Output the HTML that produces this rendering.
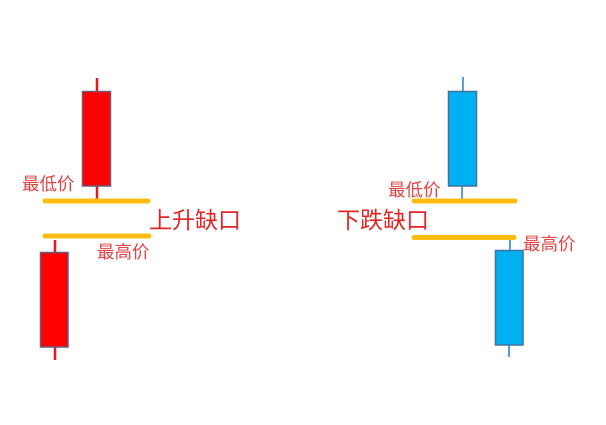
<!DOCTYPE html>
<html><head><meta charset="utf-8"><style>
html,body{margin:0;padding:0;background:#fff;}
svg{display:block;}
text{font-family:"Liberation Sans","Noto Sans CJK SC",sans-serif;}
</style></head><body>
<svg width="606" height="425" viewBox="0 0 606 425" xmlns="http://www.w3.org/2000/svg">
<rect width="606" height="425" fill="#fff"/>
<!-- left rising gap -->
<line x1="97" y1="78" x2="97" y2="200" stroke="#e8191b" stroke-width="2.5"/>
<rect x="82.5" y="91.5" width="28" height="94.5" fill="#ff0000" stroke="#6b5a7a" stroke-width="1.5"/>
<line x1="55" y1="240" x2="55" y2="360" stroke="#e8191b" stroke-width="2.5"/>
<rect x="40.5" y="252.5" width="27.5" height="94.5" fill="#ff0000" stroke="#6b5a7a" stroke-width="1.5"/>
<line x1="45" y1="201" x2="148" y2="201" stroke="#fbbd14" stroke-width="5" stroke-linecap="round"/>
<line x1="45" y1="236" x2="149" y2="236" stroke="#fbbd14" stroke-width="5" stroke-linecap="round"/>
<text x="22" y="190" font-size="17.5" fill="#e04343">最低价</text>
<text x="97" y="258" font-size="17.5" fill="#e04343">最高价</text>
<text x="149" y="228" font-size="23" fill="#e02626">上升缺口</text>
<!-- right falling gap -->
<line x1="463" y1="77" x2="462" y2="200" stroke="#5b9bd5" stroke-width="2"/>
<rect x="448.5" y="91.5" width="28" height="94.5" fill="#00b0f0" stroke="#41719c" stroke-width="1.5"/>
<line x1="510" y1="238" x2="509" y2="357" stroke="#5b9bd5" stroke-width="2"/>
<rect x="495.5" y="250.5" width="27.5" height="94.5" fill="#00b0f0" stroke="#41719c" stroke-width="1.5"/>
<line x1="414" y1="201" x2="515" y2="201" stroke="#fbbd14" stroke-width="5" stroke-linecap="round"/>
<line x1="414" y1="237.5" x2="514" y2="237.5" stroke="#fbbd14" stroke-width="5" stroke-linecap="round"/>
<text x="388" y="196" font-size="17.5" fill="#e04343">最低价</text>
<text x="523" y="250" font-size="17.5" fill="#e04343">最高价</text>
<text x="337" y="228" font-size="23" fill="#e02626">下跌缺口</text>
</svg>
</body></html>
